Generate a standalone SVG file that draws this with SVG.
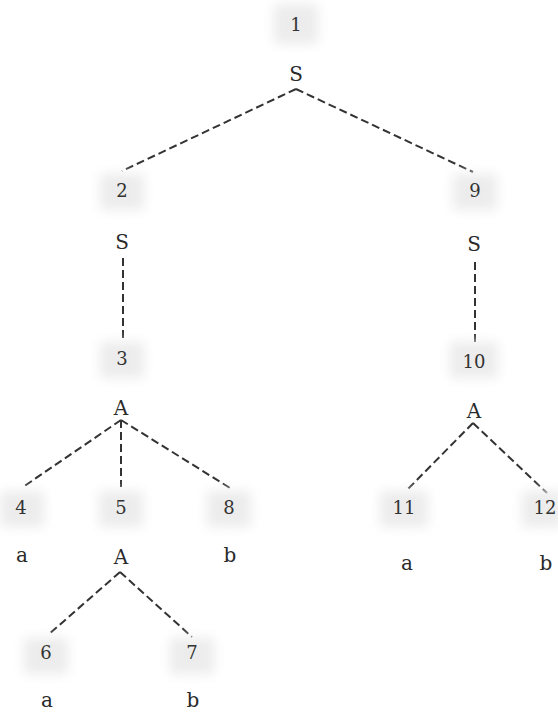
<svg xmlns="http://www.w3.org/2000/svg" width="558" height="715" viewBox="0 0 558 715">
<defs>
<filter id="soft" x="-50%" y="-50%" width="200%" height="200%"><feGaussianBlur stdDeviation="6"/></filter>
<style>
.bg{fill:#ececec;filter:url(#soft)}
.num{font-family:"DejaVu Serif","Liberation Serif",serif;font-size:18px;fill:#333;text-anchor:middle}
.sym{font-family:"DejaVu Serif","Liberation Serif",serif;font-size:20px;fill:#2a2a2a;text-anchor:middle}
.edge{stroke:#333;stroke-width:2;stroke-dasharray:8 4;fill:none}
</style>
</defs>
<rect width="558" height="715" fill="#fff"/>
<g id="edges">
<line class="edge" x1="296" y1="89" x2="122" y2="171"/>
<line class="edge" x1="296" y1="89" x2="473" y2="172"/>
<line class="edge" x1="123" y1="258" x2="123" y2="338"/>
<line class="edge" x1="475" y1="262" x2="475" y2="342"/>
<line class="edge" x1="121" y1="420" x2="23" y2="487"/>
<line class="edge" x1="121" y1="420" x2="121" y2="487"/>
<line class="edge" x1="121" y1="420" x2="230" y2="488"/>
<line class="edge" x1="473" y1="423" x2="407" y2="490"/>
<line class="edge" x1="473" y1="423" x2="547" y2="493"/>
<line class="edge" x1="120" y1="572" x2="48" y2="635"/>
<line class="edge" x1="120" y1="572" x2="192" y2="637"/>
</g>
<g id="n1"><rect class="bg" x="274" y="4" width="44" height="40"/><text class="num" x="296" y="31">1</text><text class="sym" x="296" y="81">S</text></g>
<g id="n2"><rect class="bg" x="100" y="174" width="44" height="36"/><text class="num" x="122" y="197">2</text><text class="sym" x="122" y="249">S</text></g>
<g id="n3"><rect class="bg" x="100" y="342" width="44" height="36"/><text class="num" x="122" y="365">3</text><text class="sym" x="121" y="415">A</text></g>
<g id="n4"><rect class="bg" x="0" y="491" width="44" height="36"/><text class="num" x="21" y="514">4</text><text class="sym" x="22" y="562">a</text></g>
<g id="n5"><rect class="bg" x="99" y="491" width="44" height="36"/><text class="num" x="121" y="514">5</text><text class="sym" x="121" y="564">A</text></g>
<g id="n6"><rect class="bg" x="24" y="638" width="44" height="36"/><text class="num" x="46" y="659">6</text><text class="sym" x="47" y="707">a</text></g>
<g id="n7"><rect class="bg" x="170" y="638" width="44" height="36"/><text class="num" x="192" y="659">7</text><text class="sym" x="193" y="707">b</text></g>
<g id="n8"><rect class="bg" x="207" y="491" width="44" height="36"/><text class="num" x="229" y="514">8</text><text class="sym" x="230" y="562">b</text></g>
<g id="n9"><rect class="bg" x="453" y="174" width="44" height="36"/><text class="num" x="475" y="197">9</text><text class="sym" x="474" y="251">S</text></g>
<g id="n10"><rect class="bg" x="450" y="342" width="48" height="36"/><text class="num" x="474" y="368">10</text><text class="sym" x="474" y="418">A</text></g>
<g id="n11"><rect class="bg" x="380" y="491" width="48" height="36"/><text class="num" x="404" y="514">11</text><text class="sym" x="407" y="570">a</text></g>
<g id="n12"><rect class="bg" x="522" y="491" width="40" height="36"/><text class="num" x="545" y="514">12</text><text class="sym" x="546" y="570">b</text></g>
</svg>
